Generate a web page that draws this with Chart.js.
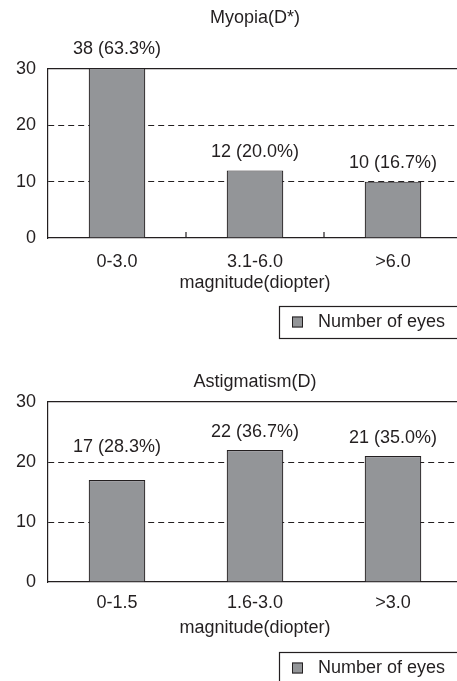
<!DOCTYPE html>
<html lang="en">
<head>
<meta charset="UTF-8" />
<title>Myopia / Astigmatism - number of eyes</title>
<script src="https://cdn.jsdelivr.net/npm/chart.js"></script>
<style>
  html, body { margin: 0; padding: 0; background: #fff; overflow: hidden; }
  body { width: 457px; height: 681px; position: relative; }
  .box { position: absolute; left: 0; width: 470px; }
  #box1 { top: 0; height: 340px; }
  #box2 { top: 340px; height: 341px; }
</style>
</head>
<body>
<div class="box" id="box1"><canvas id="myopiaChart"></canvas></div>
<div class="box" id="box2"><canvas id="astigChart"></canvas></div>
<script>
const myopiaLabels = ['0-3.0', '3.1-6.0', '>6.0'];
const myopiaEyes = [38, 12, 10];
const myopiaPct = [63.3, 20.0, 16.7];
const astigLabels = ['0-1.5', '1.6-3.0', '>3.0'];
const astigEyes = [17, 22, 21];
const astigPct = [28.3, 36.7, 35.0];
const yTicks = [0, 10, 20, 30];
const seriesName = 'Number of eyes';
const xTitle = 'magnitude(diopter)';

const ink = '#231f20';
const barFill = '#939598';
const fontFam = '"Liberation Sans", Arial, sans-serif';
const fontPx = 18;
Chart.defaults.font.family = fontFam;
Chart.defaults.font.size = fontPx;
Chart.defaults.color = ink;
Chart.defaults.animation = false;

// "38 (63.3%)" above each bar
const barLabels = {
  id: 'barLabels',
  afterDatasetsDraw(chart, args, opts) {
    const { ctx, chartArea } = chart;
    const meta = chart.getDatasetMeta(0);
    const vals = chart.data.datasets[0].data;
    ctx.save();
    ctx.font = fontPx + 'px ' + fontFam;
    ctx.fillStyle = ink;
    ctx.textAlign = 'center';
    ctx.textBaseline = 'middle';
    meta.data.forEach((bar, i) => {
      const top = Math.max(bar.y, chartArea.top);
      ctx.fillText(`${vals[i]} (${opts.pct[i].toFixed(1)}%)`, bar.x, top - opts.lift[i]);
    });
    ctx.restore();
  }
};

// small inner ticks between categories + boxed legend
const frameBits = {
  id: 'frameBits',
  afterDraw(chart, args, opts) {
    const { ctx, chartArea } = chart;
    const xs = chart.scales.x;
    ctx.save();
    ctx.strokeStyle = ink;
    ctx.lineWidth = 1.2;
    if (opts.innerTicks) {
      for (let i = 1; i < xs.ticks.length; i++) {
        const px = Math.round((xs.getPixelForTick(i - 1) + xs.getPixelForTick(i)) / 2);
        ctx.beginPath();
        ctx.moveTo(px, chartArea.bottom);
        ctx.lineTo(px, chartArea.bottom - 6);
        ctx.stroke();
      }
    }
    const lg = opts.legend;
    ctx.strokeRect(lg.x + 0.5, lg.y + 0.5, lg.w, lg.h);
    const ds = chart.data.datasets[0];
    const cy = lg.y + lg.textY;
    ctx.fillStyle = ds.backgroundColor;
    ctx.fillRect(lg.x + 13, cy - 5.5, 11, 11);
    ctx.lineWidth = 1;
    ctx.strokeRect(lg.x + 13.5, cy - 5, 10, 10);
    ctx.fillStyle = ink;
    ctx.font = fontPx + 'px ' + fontFam;
    ctx.textAlign = 'left';
    ctx.textBaseline = 'middle';
    ctx.fillText(ds.label, lg.x + 39, cy);
    ctx.restore();
  }
};

function makeChart(id, labels, values, pct, cfg) {
  return new Chart(document.getElementById(id), {
    type: 'bar',
    data: {
      labels,
      datasets: [{
        label: seriesName,
        data: values,
        backgroundColor: barFill,
        borderColor: ink,
        borderWidth: 1.2,
        categoryPercentage: 1,
        barPercentage: 0.41
      }]
    },
    options: {
      responsive: true,
      maintainAspectRatio: false,
      layout: { padding: { left: 0, right: 8, top: 0, bottom: cfg.padBottom } },
      plugins: {
        legend: { display: false },
        tooltip: { enabled: false },
        barLabels: { pct, lift: cfg.lift },
        frameBits: { innerTicks: cfg.innerTicks, legend: cfg.legend }
      },
      scales: {
        x: {
          grid: { display: false, drawTicks: false, tickLength: 0 },
          border: { color: ink, width: 1.2 },
          ticks: { padding: cfg.tickPad },
          title: { display: true, text: xTitle, padding: 0 },
          afterFit: s => { s.height = cfg.xHeight; }
        },
        // top frame line; its title is the chart heading, centred on the plot
        xTop: {
          type: 'category',
          position: 'top',
          labels,
          grid: { display: false, drawTicks: false, tickLength: 0 },
          ticks: { display: false },
          border: { color: ink, width: 1.2 },
          title: { display: true, text: cfg.title, color: ink, padding: { top: cfg.titleTop, bottom: 0 } },
          afterFit: s => { s.height = cfg.topHeight; }
        },
        y: {
          min: 0,
          max: 30,
          afterBuildTicks: s => { s.ticks = yTicks.map(v => ({ value: v })); },
          grid: {
            color: c => (c.tick && (c.tick.value === 10 || c.tick.value === 20)) ? ink : 'rgba(0,0,0,0)',
            lineWidth: 1,
            drawTicks: false
          },
          border: { color: ink, width: 1.2, dash: [6, 4] },
          ticks: { padding: 12 },
          afterFit: s => { s.width = 48; }
        }
      }
    },
    plugins: [barLabels, frameBits]
  });
}

makeChart('myopiaChart', myopiaLabels, myopiaEyes, myopiaPct, {
  title: 'Myopia(D*)',
  topHeight: 69,
  titleTop: 7,
  padBottom: 46,
  xHeight: 56,
  tickPad: 13,
  lift: [20, 18, 19],
  innerTicks: true,
  legend: { x: 279, y: 306, w: 200, h: 32, textY: 16 }
});

makeChart('astigChart', astigLabels, astigEyes, astigPct, {
  title: 'Astigmatism(D)',
  topHeight: 62,
  titleTop: 31,
  padBottom: 42,
  xHeight: 57,
  tickPad: 10,
  lift: [33, 18, 18],
  innerTicks: false,
  legend: { x: 279, y: 312, w: 200, h: 40, textY: 16 }
});
</script>
</body>
</html>
